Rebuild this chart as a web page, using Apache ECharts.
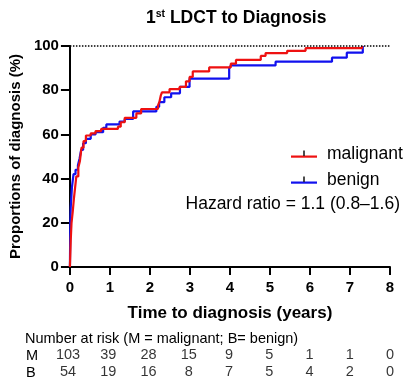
<!DOCTYPE html>
<html>
<head>
<meta charset="utf-8">
<script src="https://cdn.jsdelivr.net/npm/echarts@6/dist/echarts.min.js"></script>
<style>
  html, body { margin: 0; padding: 0; background: #fff; }
  #chart { width: 410px; height: 390px; }
</style>
</head>
<body>
<div id="chart"></div>
<script>
// step data: [years, cumulative % diagnosed]
var malignant = [
  [0, 0], [0.02, 12], [0.04, 20], [0.07, 25], [0.1, 31], [0.13, 36], [0.16, 41],
  [0.21, 45], [0.25, 48], [0.29, 54], [0.34, 57], [0.4, 59.5], [0.52, 60.5],
  [0.64, 61.5], [0.78, 62.5], [1.2, 63.5], [1.27, 65.5], [1.37, 67.5], [1.66, 69.5],
  [1.78, 71.5], [2.2, 73], [2.24, 75], [2.27, 77.5], [2.3, 79], [2.49, 80.5],
  [2.74, 81.5], [2.9, 84], [2.99, 86], [3.07, 88.5], [3.48, 90.3], [4.02, 92],
  [4.15, 93.7], [4.77, 95.5], [4.89, 96.8], [5.43, 97.8], [5.89, 99], [7.3, 100], [7.33, 100]
];
var benign = [
  [0, 0], [0.01, 20], [0.02, 27], [0.05, 36], [0.09, 42], [0.14, 44], [0.2, 46],
  [0.24, 49], [0.28, 53], [0.33, 56], [0.4, 58], [0.52, 60], [0.64, 61], [0.83, 63],
  [0.91, 64.5], [1.24, 65.8], [1.37, 67], [1.58, 70.4], [2.16, 72.5], [2.23, 74.6],
  [2.36, 76.8], [2.53, 78.6], [2.75, 81.5], [2.99, 85.2], [3.98, 89.7], [4.02, 91.2],
  [5.14, 92.9], [6.55, 94.7], [6.92, 97], [7.32, 100], [7.35, 100]
];
var riskYears = [0, 1, 2, 3, 4, 5, 6, 7, 8];
var riskM = [103, 39, 28, 15, 9, 5, 1, 1, 0];
var riskB = [54, 19, 16, 8, 7, 5, 4, 2, 0];

var font = '"Liberation Sans", Arial, sans-serif';
var RED = '#ee1111';
var BLUE = '#1111ee';

function riskRow(counts) {
  return riskYears.map(function (t, i) { return [t, 0.5, counts[i]]; });
}

// legend marker: coloured line with a small dark tick on top
function legendIcon(color) {
  var svg = '<svg xmlns="http://www.w3.org/2000/svg" width="26" height="9">' +
    '<rect x="0" y="6" width="26" height="2.2" fill="' + color + '"/>' +
    '<rect x="12.2" y="1" width="1.6" height="5.5" fill="#222"/></svg>';
  return 'image://data:image/svg+xml;charset=utf-8,' + encodeURIComponent(svg);
}

var chart = echarts.init(document.getElementById('chart'));

var hiddenX = { type: 'value', min: 0, max: 8, show: false };
var hiddenY = { type: 'value', min: 0, max: 1, show: false };
var tableText = { fontSize: 14.5, color: '#000', fontFamily: font };

var option = {
  animation: false,
  backgroundColor: '#fff',
  textStyle: { fontFamily: font },
  title: {
    text: '{a|1}{s|st}{a| LDCT to Diagnosis}',
    left: 141,
    top: 4,
    textStyle: {
      rich: {
        a: { fontSize: 17.5, fontWeight: 'bold', color: '#000', fontFamily: font },
        s: { fontSize: 10.5, fontWeight: 'bold', color: '#000', fontFamily: font, verticalAlign: 'top', padding: [0, 0, 8, 0] }
      }
    }
  },
  legend: {
    orient: 'vertical',
    left: 286,
    top: 140,
    itemWidth: 26,
    itemHeight: 9,
    itemGap: 8,
    data: [
      { name: 'malignant', icon: legendIcon(RED) },
      { name: 'benign', icon: legendIcon(BLUE) }
    ],
    textStyle: { fontSize: 17.5, color: '#000', fontFamily: font, padding: [0, 0, 0, 5] }
  },
  graphic: [
    {
      type: 'text', right: 10, top: 195,
      style: { text: 'Hazard ratio = 1.1 (0.8\u20131.6)', font: '17.5px ' + font, fill: '#000' }
    },
    {
      type: 'text', left: 25, top: 331,
      style: { text: 'Number at risk (M = malignant; B= benign)', font: '14.5px ' + font, fill: '#000' }
    },
    { type: 'text', left: 26, top: 348, style: { text: 'M', font: '14.5px ' + font, fill: '#000' } },
    { type: 'text', left: 26, top: 365, style: { text: 'B', font: '14.5px ' + font, fill: '#000' } }
  ],
  grid: [
    { left: 68, right: 20, top: 46, bottom: 123 },
    { left: 68, right: 20, top: 347, height: 16 },
    { left: 68, right: 20, top: 364, height: 16 }
  ],
  xAxis: [
    {
      type: 'value', min: 0, max: 8, interval: 1,
      name: 'Time to diagnosis (years)',
      nameLocation: 'middle', nameGap: 38,
      nameTextStyle: { fontSize: 17, fontWeight: 'bold', color: '#000', fontFamily: font },
      axisLine: { lineStyle: { color: '#000', width: 2 } },
      axisTick: { show: true, length: 8, lineStyle: { color: '#000', width: 2 } },
      axisLabel: { fontSize: 15, fontWeight: 'bold', color: '#000', margin: 13, fontFamily: font },
      splitLine: { show: false }
    },
    Object.assign({ gridIndex: 1 }, hiddenX),
    Object.assign({ gridIndex: 2 }, hiddenX)
  ],
  yAxis: [
    {
      type: 'value', min: 0, max: 100, interval: 20,
      name: 'Proportions of diagnosis (%)',
      nameLocation: 'middle', nameGap: 46,
      nameTextStyle: { fontSize: 15, fontWeight: 'bold', color: '#000', fontFamily: font },
      axisLine: { show: true, lineStyle: { color: '#000', width: 2 } },
      axisTick: { show: true, length: 9, lineStyle: { color: '#000', width: 2 } },
      axisLabel: { fontSize: 15, fontWeight: 'bold', color: '#000', margin: 11, fontFamily: font },
      splitLine: { show: false }
    },
    Object.assign({ gridIndex: 1 }, hiddenY),
    Object.assign({ gridIndex: 2 }, hiddenY)
  ],
  series: [
    {
      name: 'benign', type: 'line', step: 'end', data: benign,
      showSymbol: false, symbol: 'none', z: 3,
      color: BLUE,
      lineStyle: { color: BLUE, width: 2.2 },
      markLine: {
        silent: true, symbol: 'none', label: { show: false },
        lineStyle: { color: '#000', type: 'dotted', width: 1.5 },
        data: [{ yAxis: 100 }]
      }
    },
    {
      name: 'malignant', type: 'line', step: 'end', data: malignant,
      showSymbol: false, symbol: 'none', z: 4,
      color: RED,
      lineStyle: { color: RED, width: 2.2 }
    },
    {
      type: 'scatter', xAxisIndex: 1, yAxisIndex: 1, data: riskRow(riskM),
      symbolSize: 1, itemStyle: { color: 'rgba(0,0,0,0)' },
      label: Object.assign({ show: true, position: 'inside', formatter: function (p) { return p.value[2]; } }, tableText)
    },
    {
      type: 'scatter', xAxisIndex: 2, yAxisIndex: 2, data: riskRow(riskB),
      symbolSize: 1, itemStyle: { color: 'rgba(0,0,0,0)' },
      label: Object.assign({ show: true, position: 'inside', formatter: function (p) { return p.value[2]; } }, tableText)
    }
  ]
};

chart.setOption(option);
</script>
</body>
</html>
